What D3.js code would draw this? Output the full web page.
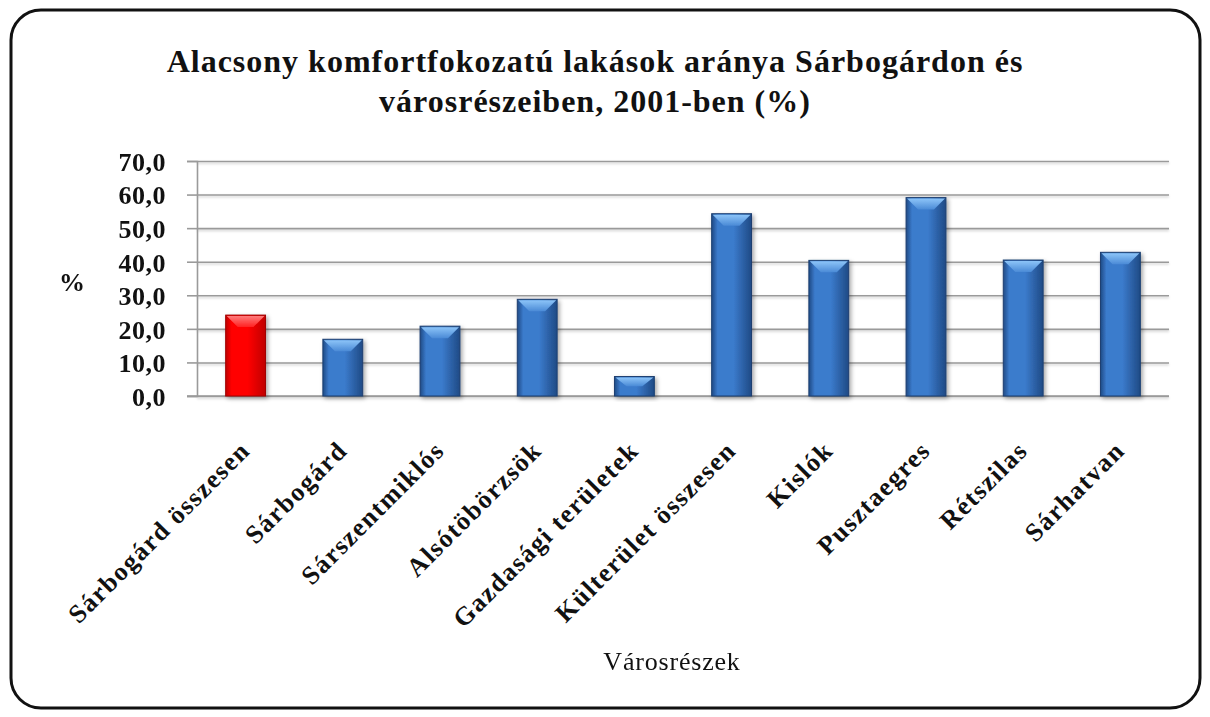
<!DOCTYPE html>
<html>
<head>
<meta charset="utf-8">
<script src="https://cdn.jsdelivr.net/npm/d3@7"></script>
<style>
  body { margin: 0; background: #fff; }
  svg { display: block; }
  text { font-family: "Liberation Serif", "DejaVu Serif", serif; fill: #111; }
</style>
</head>
<body>
<script>
// categories and values (% of low-comfort dwellings, 2001)
var categories = ["Sárbogárd összesen", "Sárbogárd", "Sárszentmiklós", "Alsótöbörzsök",
  "Gazdasági területek", "Külterület összesen", "Kislók", "Pusztaegres", "Rétszilas", "Sárhatvan"];
var values = [24.1, 16.9, 20.8, 28.8, 5.8, 54.3, 40.4, 59.1, 40.5, 42.8];
var yTicks = [0, 10, 20, 30, 40, 50, 60, 70];
var titleLines = ["Alacsony komfortfokozatú lakások aránya Sárbogárdon és", "városrészeiben, 2001-ben (%)"];

var W = 1210, H = 717;
var margin = {top: 161, right: 41, bottom: 321, left: 197},
  width = W - margin.left - margin.right,
  height = H - margin.top - margin.bottom;

var svg = d3.select("body").append("svg")
  .attr("width", W)
  .attr("height", H);

var defs = svg.append("defs");

// bar gradients: darker edges, lighter middle
function barGrad(id, edge, mid) {
  var g = defs.append("linearGradient").attr("id", id)
    .attr("x1", "0%").attr("x2", "100%").attr("y1", "0%").attr("y2", "0%");
  g.append("stop").attr("offset", "0%").attr("stop-color", edge);
  g.append("stop").attr("offset", "15%").attr("stop-color", mid);
  g.append("stop").attr("offset", "55%").attr("stop-color", mid);
  g.append("stop").attr("offset", "100%").attr("stop-color", edge);
}
barGrad("blueGrad", "#1f4a85", "#3b7bcc");
barGrad("redGrad", "#c00000", "#ff0000");

// top bevel fades downward
function bevelGrad(id, light, base) {
  var g = defs.append("linearGradient").attr("id", id)
    .attr("x1", "0%").attr("x2", "0%").attr("y1", "0%").attr("y2", "100%");
  g.append("stop").attr("offset", "0%").attr("stop-color", light);
  g.append("stop").attr("offset", "100%").attr("stop-color", base);
}
bevelGrad("blueBevel", "#8cc4f8", "#4a8ad6");
bevelGrad("redBevel", "#ff7a7a", "#ff2020");

var shadow = defs.append("filter").attr("id", "shadow")
  .attr("x", "-20%").attr("y", "-20%").attr("width", "150%").attr("height", "150%");
shadow.append("feDropShadow").attr("dx", 2).attr("dy", 2).attr("stdDeviation", 2)
  .attr("flood-color", "#000").attr("flood-opacity", 0.35);

var gridShadow = defs.append("filter").attr("id", "gridShadow")
  .attr("x", "-5%").attr("y", "-200%").attr("width", "110%").attr("height", "500%");
gridShadow.append("feDropShadow").attr("dx", 0).attr("dy", 1.5).attr("stdDeviation", 1)
  .attr("flood-color", "#000").attr("flood-opacity", 0.2);

// outer rounded frame
svg.append("rect")
  .attr("x", 11).attr("y", 10)
  .attr("width", 1189).attr("height", 698)
  .attr("rx", 30).attr("ry", 30)
  .attr("fill", "#fff")
  .attr("stroke", "#111")
  .attr("stroke-width", 3);

// title
svg.append("g").selectAll("text")
  .data(titleLines)
  .enter().append("text")
  .attr("x", 595)
  .attr("y", function(d, i) { return 72 + i * 40; })
  .attr("text-anchor", "middle")
  .style("font-size", "32px")
  .style("font-weight", "bold")
  .style("letter-spacing", "1px")
  .text(function(d) { return d; });

var g = svg.append("g")
  .attr("transform", "translate(" + margin.left + "," + margin.top + ")");

var xScale = d3.scaleBand()
  .domain(categories)
  .range([0, width])
  .paddingInner(0.59)
  .paddingOuter(0.295);

var yScale = d3.scaleLinear()
  .domain([0, 70])
  .range([height, 0]);

// gridlines
g.append("g")
  .attr("class", "grid")
  .attr("filter", "url(#gridShadow)")
  .call(d3.axisLeft(yScale).tickValues(yTicks).tickSize(-width).tickFormat(""))
  .call(function(s) {
    s.select(".domain").remove();
    s.selectAll("line").attr("stroke", "#9a9a9a").attr("stroke-width", 1.6);
  });

// y axis
g.append("g")
  .attr("class", "y axis")
  .call(d3.axisLeft(yScale).tickValues(yTicks).tickSize(10).tickPadding(21)
    .tickFormat(function(d) { return d3.format(".1f")(d).replace(".", ","); }))
  .call(function(s) {
    s.select(".domain").attr("stroke", "#9a9a9a").attr("stroke-width", 1.6);
    s.selectAll("line").attr("stroke", "#9a9a9a").attr("stroke-width", 1.6);
    s.selectAll("text")
      .style("font-size", "26px")
      .style("font-weight", "bold")
      .style("letter-spacing", "0.5px")
      .attr("fill", "#111")
      .attr("dy", "0.36em");
  });

// x axis
g.append("g")
  .attr("class", "x axis")
  .attr("transform", "translate(0," + height + ")")
  .call(d3.axisBottom(xScale).tickSize(0).tickPadding(0))
  .call(function(s) {
    s.select(".domain").attr("stroke", "#9a9a9a").attr("stroke-width", 1.6)
      .attr("d", "M-10,0H" + width);
    s.selectAll("text")
      .style("font-size", "26px")
      .style("font-weight", "bold")
      .style("letter-spacing", "1.5px")
      .attr("fill", "#111")
      .style("text-anchor", "end")
      .attr("dy", 0)
      .attr("transform", "translate(6,56) rotate(-45)");
  });

// bars
var bars = g.selectAll(".bar")
  .data(values)
  .enter().append("g")
  .attr("class", "bar")
  .attr("filter", "url(#shadow)");

bars.append("rect")
  .attr("x", function(d, i) { return xScale(categories[i]); })
  .attr("y", function(d) { return yScale(d); })
  .attr("width", xScale.bandwidth())
  .attr("height", function(d) { return height - yScale(d); })
  .attr("fill", function(d, i) { return i === 0 ? "url(#redGrad)" : "url(#blueGrad)"; })
  .attr("stroke", function(d, i) { return i === 0 ? "#a00000" : "#1c3f70"; })
  .attr("stroke-width", 1);

// bevel highlight on bar tops
bars.append("path")
  .attr("d", function(d, i) {
    var x0 = xScale(categories[i]), bw = xScale.bandwidth(), y0 = yScale(d);
    var h = Math.min(12, (height - y0) / 2);
    return "M" + (x0 + 1) + "," + (y0 + 1) + "H" + (x0 + bw - 1) +
      "L" + (x0 + bw - 12) + "," + (y0 + h) + "H" + (x0 + 12) + "Z";
  })
  .attr("fill", function(d, i) { return i === 0 ? "url(#redBevel)" : "url(#blueBevel)"; });

// axis titles
svg.append("text")
  .attr("x", 72).attr("y", 291)
  .attr("text-anchor", "middle")
  .style("font-size", "26px")
  .style("font-weight", "bold")
  .text("%");

svg.append("text")
  .attr("x", 672).attr("y", 670)
  .attr("text-anchor", "middle")
  .style("font-size", "26px")
  .style("letter-spacing", "0.8px")
  .text("Városrészek");
</script>
</body>
</html>
